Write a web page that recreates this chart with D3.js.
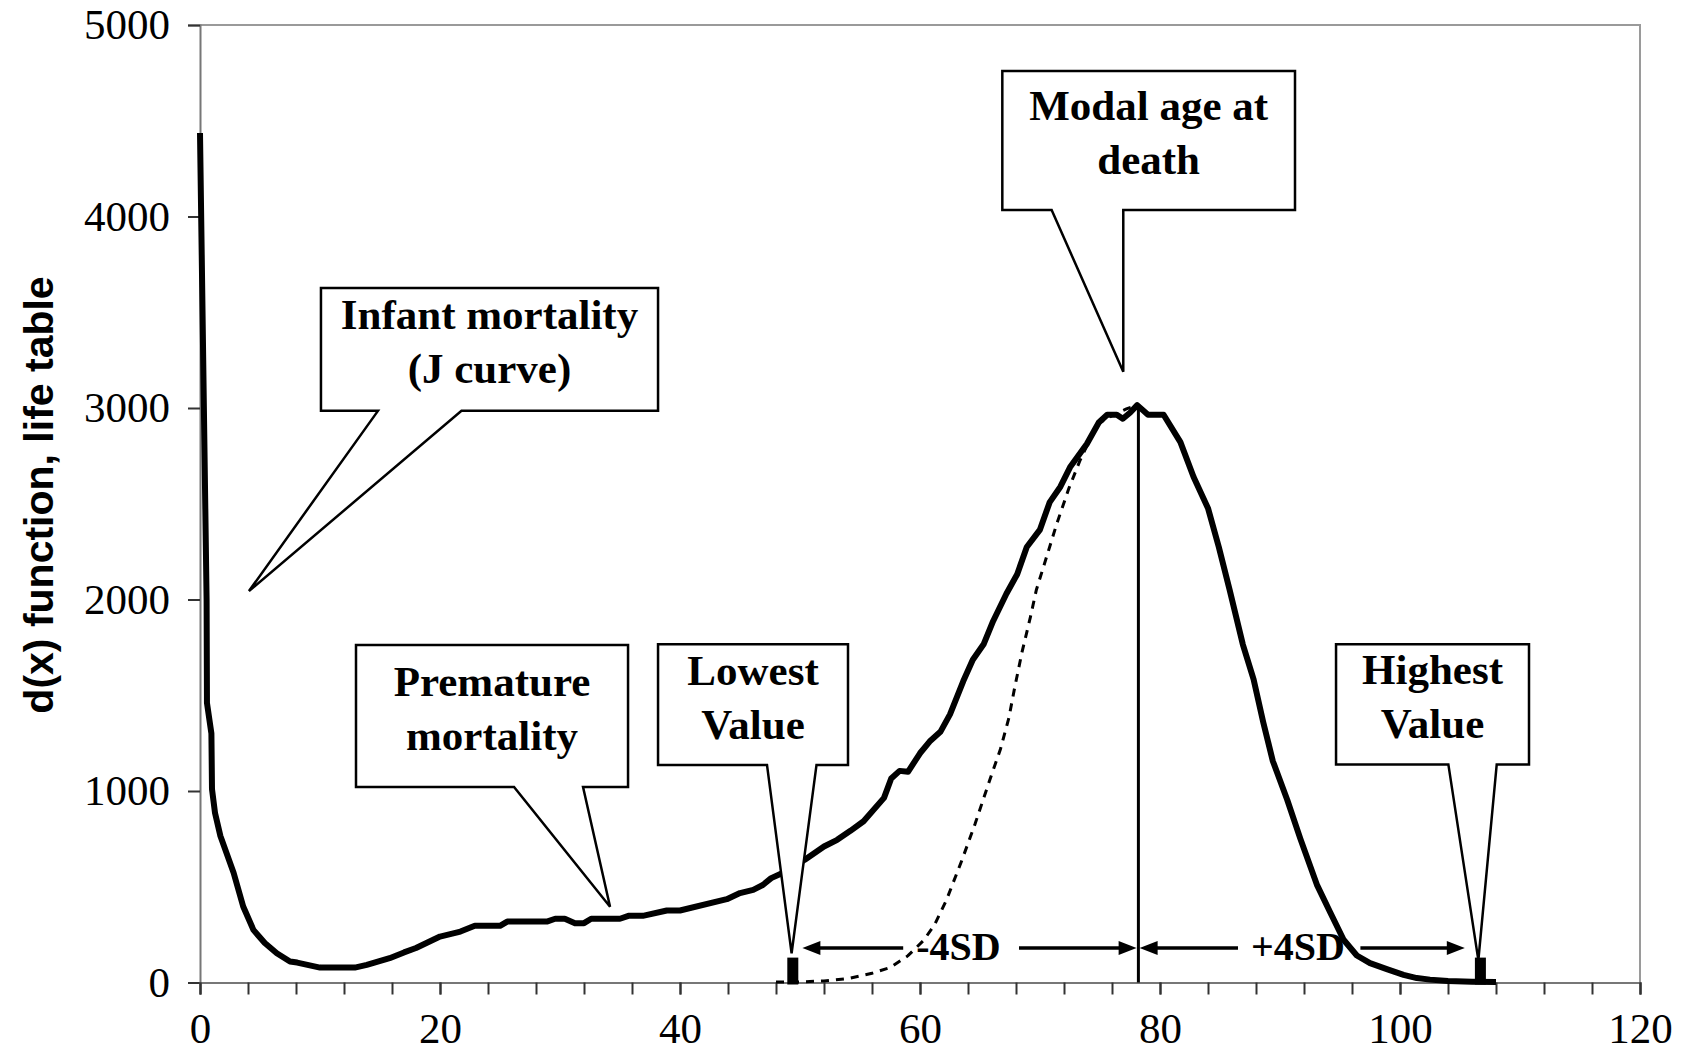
<!DOCTYPE html>
<html><head><meta charset="utf-8">
<script src="https://cdn.jsdelivr.net/npm/d3@7"></script>
<style>
html,body{margin:0;padding:0;background:#fff;}
svg{display:block;}
</style></head>
<body>
<svg id="chart" width="1692" height="1063"></svg>
<script>
// ---------- data ----------
const ages = [0, 0.55, 0.58, 0.95, 1.0, 1.25, 1.7, 2.8, 3.6, 4.45, 5.4, 6.4, 7.5, 8.1, 10, 12.9, 13.9, 15.8, 17, 18, 20, 21.7, 22.9, 25, 25.6, 28.9, 29.6, 30.4, 31.25, 32, 32.6, 35, 35.7, 36.9, 38.9, 40, 43.9, 45, 46.1, 46.9, 47.6, 48.5, 50.4, 52, 53.1, 54.2, 55.3, 57, 57.6, 58.3, 59, 60, 60.8, 61.7, 62.5, 63.6, 64.4, 65.3, 66.1, 67.2, 68.1, 68.9, 70, 70.8, 71.7, 72.5, 73.9, 74.9, 75.6, 76.4, 76.9, 77.5, 78.1, 79, 80.3, 81.7, 82.8, 84, 84.9, 85.8, 86.9, 87.8, 88.6, 89.4, 90.6, 91.7, 93.1, 94.2, 95.3, 96.4, 97.5, 98.9, 100.3, 101.4, 102.5, 104, 106, 108];
const dx = [4436, 2000, 1460, 1300, 1010, 886, 765, 573, 397, 275, 206, 153, 110, 104, 78, 78, 92, 127, 157, 180, 240, 266, 296, 296, 318, 318, 333, 333, 310, 310, 333, 333, 348, 348, 376, 376, 435, 467, 484, 509, 545, 571, 641, 710, 745, 792, 842, 964, 1065, 1105, 1100, 1197, 1258, 1309, 1400, 1573, 1685, 1766, 1888, 2030, 2132, 2274, 2365, 2507, 2589, 2690, 2812, 2924, 2965, 2965, 2944, 2975, 3015, 2965, 2965, 2822, 2640, 2477, 2274, 2051, 1766, 1583, 1360, 1157, 954, 750, 507, 364, 223, 141, 101, 70, 40, 23, 15, 8, 4, 2];

const fitAges = [48, 50, 52, 54, 56, 57.5, 59, 60.3, 61.2, 62.2, 63.5, 64.6, 65.8, 66.7, 67.4, 67.9, 68.5, 69.2, 69.7, 70.6, 71.4, 72.4, 73.3, 74.2, 75, 76, 77.2, 78.1, 79, 80.3, 81.7, 82.8, 84, 84.9, 85.8, 86.9, 87.8, 88.6, 89.4, 90.6, 91.7, 93.1, 94.2, 95.3];
const fitDx = [2, 3, 8, 20, 48, 78, 140, 220, 300, 430, 640, 830, 1055, 1218, 1380, 1543, 1725, 1908, 2051, 2233, 2396, 2579, 2721, 2843, 2924, 2960, 2995, 3015, 2965, 2960, 2815, 2635, 2470, 2270, 2045, 1760, 1575, 1350, 1150, 945, 745, 500, 360, 220];

const yTicks = [0, 1000, 2000, 3000, 4000, 5000];
const xMajorTicks = [0, 20, 40, 60, 80, 100, 120];
const xMinorTicks = d3.range(0, 121, 4);
const yTitle = "d(x) function, life table";

const modalAge = 78.2, modalValue = 3015;
const lowestAge = 49.4, highestAge = 106.7, markerTop = 130;

const sdY = 180;
const sdLabels = ["-4SD", "+4SD"];
// [arrow tip left, line end, label centre, line start, arrow tip right]
const sdSpans = [[50.2, 58.6, 63.2, 68.25, 78.05], [78.3, 86.5, 91.5, 96.7, 105.4]];

const calloutText = [
  ["Infant mortality", "(J curve)"],
  ["Premature", "mortality"],
  ["Lowest", "Value"],
  ["Highest", "Value"],
  ["Modal age at", "death"]
];
// box in data units: [ageLeft, ageRight, valueTop, valueBottom, baseLeft, baseRight, tipAge, tipValue]
const calloutBoxes = [
  [10.08, 38.17, 3627, 2985, 14.83, 21.79, 4.08, 2044],
  [13.0, 35.67, 1762, 1021, 26.17, 31.92, 34.17, 396],
  [38.17, 54.0, 1766, 1136, 47.25, 51.375, 49.3, 152],
  [94.67, 110.75, 1766, 1139, 104.03, 108.06, 106.53, 117],
  [66.86, 91.25, 4760, 4034, 70.97, 76.94, 76.94, 3189]
];

// ---------- layout ----------
const L = 200, T = 25, R = 1640, B = 982.5;
const svg = d3.select("#chart");
const x = d3.scaleLinear().domain([0, 120]).range([L, R]);
const y = d3.scaleLinear().domain([0, 5000]).range([B, T]);
const serif = "'Liberation Serif','Times New Roman',Times,serif";

// frame (top & right)
svg.append("path")
  .attr("d", `M${L},${T}H${R}V${B}`)
  .attr("fill", "none").attr("stroke", "#9a9a9a").attr("stroke-width", 2);

// y axis
const gy = svg.append("g").attr("transform", `translate(${L},0)`)
  .call(d3.axisLeft(y).tickValues(yTicks).tickSize(12).tickPadding(18).tickFormat(d3.format("d")));
gy.select(".domain").attr("stroke", "#777").attr("stroke-width", 2);
gy.selectAll(".tick line").attr("stroke", "#333").attr("stroke-width", 2);
gy.selectAll(".tick text").attr("font-family", serif).attr("font-size", 43).attr("fill", "#000");

// x axis minor ticks
const gx = svg.append("g").attr("transform", `translate(0,${B})`)
  .call(d3.axisBottom(x).tickValues(xMinorTicks).tickSize(12).tickFormat(""));
gx.select(".domain").attr("stroke", "#777").attr("stroke-width", 2);
gx.selectAll(".tick line").attr("stroke", "#333").attr("stroke-width", 2);
// x axis labels
const gx2 = svg.append("g").attr("transform", `translate(0,${B})`)
  .call(d3.axisBottom(x).tickValues(xMajorTicks).tickSize(12).tickPadding(18).tickFormat(d3.format("d")));
gx2.select(".domain").remove();
gx2.selectAll(".tick line").attr("stroke", "#333").attr("stroke-width", 2);
gx2.selectAll(".tick text").attr("font-family", serif).attr("font-size", 43).attr("fill", "#000");

// y title
svg.append("text")
  .attr("transform", "translate(53,495) rotate(-90)")
  .attr("text-anchor", "middle")
  .attr("font-family", "'Liberation Sans',Arial,sans-serif")
  .attr("font-weight", "bold").attr("font-size", 41)
  .text(yTitle);

// curves
const line = d3.line().x(d => x(d[0])).y(d => y(d[1]));
svg.append("path")
  .attr("d", line(fitAges.map((a, i) => [a, fitDx[i]])))
  .attr("fill", "none").attr("stroke", "#000").attr("stroke-width", 3)
  .attr("stroke-dasharray", "8,7");
svg.append("path")
  .attr("d", line(ages.map((a, i) => [a, dx[i]])))
  .attr("fill", "none").attr("stroke", "#000").attr("stroke-width", 6)
  .attr("stroke-linejoin", "round");

// modal vertical line
svg.append("line")
  .attr("x1", x(modalAge)).attr("x2", x(modalAge))
  .attr("y1", y(0)).attr("y2", y(modalValue))
  .attr("stroke", "#000").attr("stroke-width", 3);

// markers
[lowestAge, highestAge].forEach(a => {
  svg.append("rect")
    .attr("x", x(a) - 5.5).attr("width", 11)
    .attr("y", y(markerTop)).attr("height", y(0) - y(markerTop) + 2)
    .attr("fill", "#000");
});

// SD arrows
const head = (tipX, dir) => {
  const yy = y(sdY);
  return `M${tipX},${yy}L${tipX + dir * 18},${yy - 7}L${tipX + dir * 18},${yy + 7}Z`;
};
sdSpans.forEach((s, i) => {
  const yy = y(sdY);
  svg.append("line").attr("x1", x(s[0]) + 15).attr("x2", x(s[1])).attr("y1", yy).attr("y2", yy)
    .attr("stroke", "#000").attr("stroke-width", 3.5);
  svg.append("line").attr("x1", x(s[3])).attr("x2", x(s[4]) - 15).attr("y1", yy).attr("y2", yy)
    .attr("stroke", "#000").attr("stroke-width", 3.5);
  svg.append("path").attr("d", head(x(s[0]), 1)).attr("fill", "#000");
  svg.append("path").attr("d", head(x(s[4]), -1)).attr("fill", "#000");
  svg.append("text").attr("x", x(s[2])).attr("y", yy + 12)
    .attr("text-anchor", "middle").attr("font-family", serif)
    .attr("font-weight", "bold").attr("font-size", 40).text(sdLabels[i]);
});

// callouts
calloutBoxes.forEach((b, i) => {
  const X0 = x(b[0]), X1 = x(b[1]), Yt = y(b[2]), Yb = y(b[3]);
  const p = d3.path();
  p.moveTo(X0, Yt); p.lineTo(X1, Yt); p.lineTo(X1, Yb);
  p.lineTo(x(b[5]), Yb); p.lineTo(x(b[6]), y(b[7])); p.lineTo(x(b[4]), Yb);
  p.lineTo(X0, Yb); p.closePath();
  svg.append("path").attr("d", p.toString())
    .attr("fill", "#fff").attr("stroke", "#000").attr("stroke-width", 2.5)
    .attr("stroke-linejoin", "miter");
  const mid = (Yt + Yb) / 2, cx = (X0 + X1) / 2;
  calloutText[i].forEach((t, j) => {
    svg.append("text").attr("x", cx).attr("y", mid + 7 + (j - 0.5) * 54)
      .attr("text-anchor", "middle").attr("font-family", serif)
      .attr("font-weight", "bold").attr("font-size", 43).text(t);
  });
});
</script>
</body></html>
